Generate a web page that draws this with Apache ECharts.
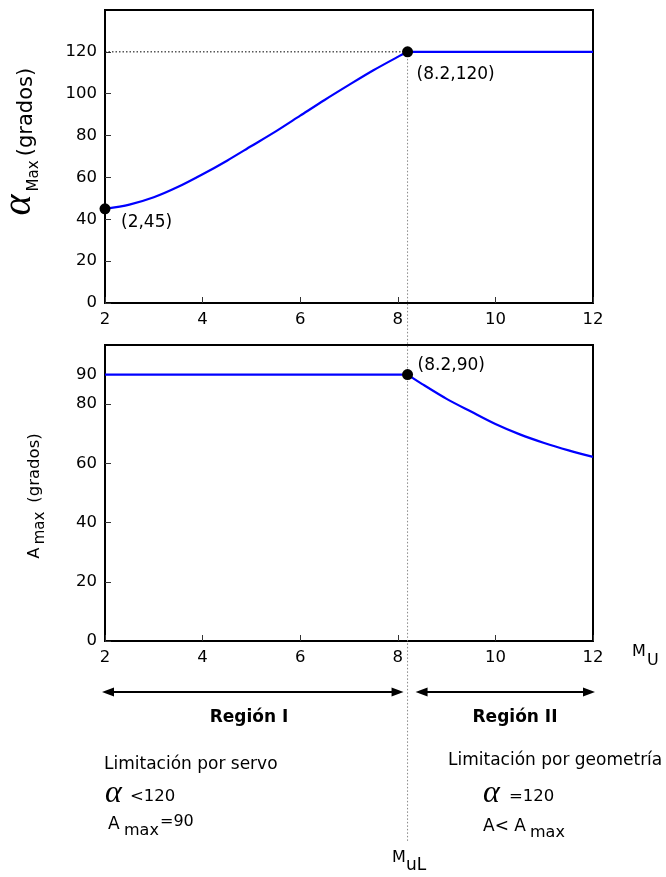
<!DOCTYPE html>
<html>
<head>
<meta charset="utf-8">
<script src="https://cdn.jsdelivr.net/npm/echarts@6/dist/echarts.min.js"></script>
<style>html,body{margin:0;padding:0;background:#fff}#c{width:666px;height:877px}</style>
</head>
<body>
<div id="c"></div>
<script>
// ---- data ----
const xTicks = [2, 4, 6, 8, 10, 12];
const yTicksTop = [0, 20, 40, 60, 80, 100, 120];
const yTicksBottom = [0, 20, 40, 60, 80, 90];
const topCurveX = [2, 2.5, 3, 3.5, 4, 4.5, 5, 5.5, 6, 6.5, 7, 7.5, 8, 8.2];
const topCurveY = [45, 47, 50.5, 55.5, 61.5, 68, 75, 82, 89.5, 97, 104.2, 111.2, 117.6, 120];
const topFlatX = [8.2, 12];
const topFlatY = [120, 120];
const botFlatX = [2, 8.2];
const botFlatY = [90, 90];
const botCurveX = [8.2, 8.5, 9, 9.5, 10, 10.5, 11, 11.5, 12];
const botCurveY = [90, 86.8, 81.8, 77.5, 73.3, 69.8, 66.9, 64.4, 62.2];
const topPointsX = [2, 8.2];
const topPointsY = [45, 120];
const botPointsX = [8.2];
const botPointsY = [90];
const muL = 8.2;

const FONT = 'DejaVu Sans';
const chart = echarts.init(document.getElementById('c'), null, {renderer: 'canvas'});

function xAxisCfg(gi) {
  return {
    type: 'value', gridIndex: gi, min: xTicks[0], max: xTicks[xTicks.length - 1], interval: 2,
    axisLine: {show: false},
    axisTick: {show: true, inside: true, length: 6, lineStyle: {color: '#333', width: 1}},
    splitLine: {show: false},
    axisLabel: {color: '#000', fontFamily: FONT, fontSize: 16.5, margin: 8}
  };
}
function yAxisCfg(gi, max, ticks) {
  return {
    type: 'value', gridIndex: gi, min: 0, max: max,
    axisLine: {show: false},
    axisTick: {show: true, inside: true, length: 6, customValues: ticks, lineStyle: {color: '#333', width: 1}},
    splitLine: {show: false},
    axisLabel: {color: '#000', fontFamily: FONT, fontSize: 16.5, margin: 8, customValues: ticks}
  };
}
const zip = (a, b) => a.map((v, i) => [v, b[i]]);
const blue = {color: '#0000ff', width: 2.2};

const option = {
  animation: false,
  backgroundColor: '#fff',
  grid: [
    {left: 105, top: 10, width: 488, height: 293, show: true, borderColor: '#000', borderWidth: 2, backgroundColor: 'transparent'},
    {left: 105, top: 345, width: 488, height: 296, show: true, borderColor: '#000', borderWidth: 2, backgroundColor: 'transparent'}
  ],
  xAxis: [xAxisCfg(0), xAxisCfg(1)],
  yAxis: [yAxisCfg(0, 140, yTicksTop), yAxisCfg(1, 100, yTicksBottom)],
  series: [
    {type: 'line', xAxisIndex: 0, yAxisIndex: 0, data: [[topPointsX[0], topPointsY[1]], [topPointsX[1], topPointsY[1]]],
     symbol: 'none', lineStyle: {color: '#000', width: 1, type: [1.5, 2]}, z: 1},
    {type: 'line', xAxisIndex: 0, yAxisIndex: 0, data: zip(topCurveX, topCurveY), symbol: 'none',
     smooth: 0.3, lineStyle: blue, z: 3},
    {type: 'line', xAxisIndex: 0, yAxisIndex: 0, data: zip(topFlatX, topFlatY), symbol: 'none', lineStyle: blue, z: 3},
    {type: 'line', xAxisIndex: 1, yAxisIndex: 1, data: zip(botFlatX, botFlatY), symbol: 'none', lineStyle: blue, z: 3},
    {type: 'line', xAxisIndex: 1, yAxisIndex: 1, data: zip(botCurveX, botCurveY), symbol: 'none',
     smooth: 0.3, lineStyle: blue, z: 3},
    {type: 'scatter', xAxisIndex: 0, yAxisIndex: 0, data: zip(topPointsX, topPointsY), symbol: 'circle', symbolSize: 11,
     itemStyle: {color: '#000', opacity: 1}, z: 5},
    {type: 'scatter', xAxisIndex: 1, yAxisIndex: 1, data: zip(botPointsX, botPointsY), symbol: 'circle', symbolSize: 11,
     itemStyle: {color: '#000', opacity: 1}, z: 5}
  ]
};
chart.setOption(option);

function T(x, y, text, opt) {
  opt = opt || {};
  return {
    type: 'text', x: x, y: y, rotation: opt.rot || 0, z: 10,
    style: {
      text: text, fill: '#000',
      fontFamily: opt.family || FONT, fontSize: opt.size || 17,
      fontWeight: opt.weight || 'normal', fontStyle: opt.style || 'normal',
      textAlign: opt.align || 'left', textVerticalAlign: 'middle'
    }
  };
}
function arrow(x1, x2, y) {
  const h = 12, w = 4.5;
  return [
    {type: 'line', shape: {x1: x1 + 4, y1: y, x2: x2 - 4, y2: y}, style: {stroke: '#000', lineWidth: 2}, z: 10},
    {type: 'polygon', shape: {points: [[x1, y], [x1 + h, y - w], [x1 + h, y + w]]}, style: {fill: '#000'}, z: 10},
    {type: 'polygon', shape: {points: [[x2, y], [x2 - h, y - w], [x2 - h, y + w]]}, style: {fill: '#000'}, z: 10}
  ];
}

const pTop = chart.convertToPixel({xAxisIndex: 0, yAxisIndex: 0}, [muL, topPointsY[1]]);
const p245 = chart.convertToPixel({xAxisIndex: 0, yAxisIndex: 0}, [topPointsX[0], topPointsY[0]]);
const pBot = chart.convertToPixel({xAxisIndex: 1, yAxisIndex: 1}, [botPointsX[0], botPointsY[0]]);
const xL = chart.convertToPixel({xAxisIndex: 1}, xTicks[0]);
const xR = chart.convertToPixel({xAxisIndex: 1}, xTicks[xTicks.length - 1]);
const xM = pTop[0];
const ARROW_Y = 692;

const graphics = [
  {type: 'line', shape: {x1: xM, y1: pTop[1], x2: xM, y2: 842},
   style: {stroke: '#888', lineWidth: 1, lineDash: [1.5, 2]}, z: 0},
  T(p245[0] + 16, p245[1] + 14, '(' + topPointsX[0] + ',' + topPointsY[0] + ')'),
  T(pTop[0] + 9, pTop[1] + 23, '(' + topPointsX[1] + ',' + topPointsY[1] + ')'),
  T(pBot[0] + 10, pBot[1] - 9, '(' + botPointsX[0] + ',' + botPointsY[0] + ')'),
  // y axis titles (rotated)
  T(19, 205, 'α', {rot: Math.PI / 2, align: 'center', size: 40, family: 'Liberation Serif', style: 'italic'}),
  T(34, 176, 'Max', {rot: Math.PI / 2, align: 'center', size: 15}),
  T(27, 112, '(grados)', {rot: Math.PI / 2, align: 'center', size: 21}),
  T(35, 553, 'A', {rot: Math.PI / 2, align: 'center', size: 16}),
  T(40, 528, 'max', {rot: Math.PI / 2, align: 'center', size: 15}),
  T(35, 468, '(grados)', {rot: Math.PI / 2, align: 'center', size: 16.5}),
  // M_U
  T(632, 652, 'M', {size: 16}),
  T(647, 661, 'U', {size: 16}),
  // Regions
  T(249, 718, 'Región I', {align: 'center', weight: 'bold'}),
  T(515, 718, 'Región II', {align: 'center', weight: 'bold'}),
  T(104, 765, 'Limitación por servo'),
  T(105, 794, 'α', {size: 32, family: 'Liberation Serif', style: 'italic'}),
  T(130, 797, '<120', {size: 16.5}),
  T(108, 825, 'A', {size: 17}),
  T(124, 831, 'max', {size: 16}),
  T(160, 822, '=90', {size: 16}),
  T(448, 761, 'Limitación por geometría'),
  T(483, 794, 'α', {size: 32, family: 'Liberation Serif', style: 'italic'}),
  T(509, 797, '=120', {size: 16.5}),
  T(483, 827, 'A< A', {size: 17}),
  T(530, 833, 'max', {size: 16}),
  T(392, 858, 'M', {size: 16}),
  T(406, 866, 'uL', {size: 17})
].concat(arrow(xL - 3, xM - 4, ARROW_Y), arrow(xM + 8, xR + 2, ARROW_Y));

chart.setOption({graphic: graphics});
</script>
</body>
</html>
